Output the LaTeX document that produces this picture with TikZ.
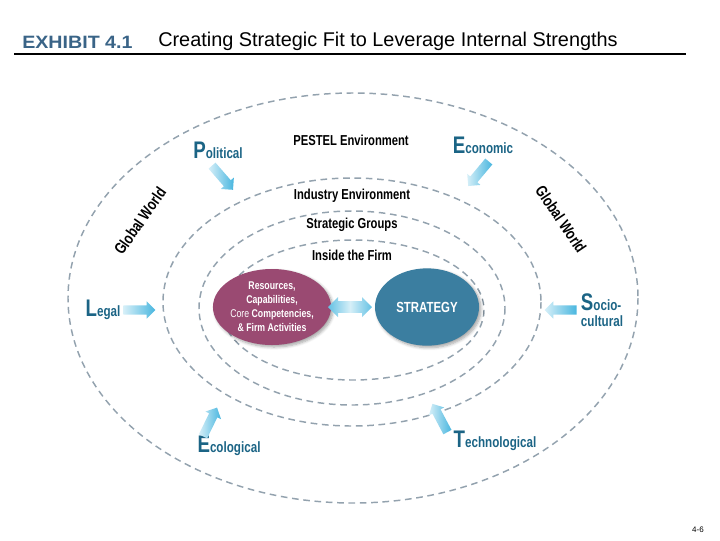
\documentclass[tikz,border=0pt]{standalone}
\usepackage{fontspec}
\setmainfont{Liberation Sans}
\newfontfamily\cond[FakeStretch=0.78]{Liberation Sans}
\newfontfamily\widefont[FakeStretch=1.1]{Liberation Sans}
\usetikzlibrary{shapes.arrows,shapes.geometric,shadows.blur}
\definecolor{ringgray}{HTML}{93A2AE}
\definecolor{plum}{HTML}{9A4A72}
\definecolor{stratblue}{HTML}{3B7EA0}
\definecolor{pestblue}{HTML}{1B6485}
\definecolor{exhblue}{HTML}{3A6487}
\definecolor{arrowdark}{HTML}{48B6DF}
\definecolor{arrowlight}{HTML}{D6EFF8}
\tikzset{
  ring/.style={draw=ringgray, line width=1.1pt, dash pattern=on 5pt off 3.5pt},
  ringlabel/.style={font=\cond\bfseries\fontsize{10.8}{12}\selectfont, text=black},
  gw/.style={font=\cond\bfseries\fontsize{12}{14}\selectfont, text=black},
  pest/.style={font=\cond\bfseries\fontsize{11.2}{13}\selectfont, text=pestblue, inner sep=0pt},
  fatarrow/.style={single arrow, minimum height=24pt, minimum width=13pt,
    single arrow head extend=3pt, single arrow tip angle=90, inner xsep=0pt, inner ysep=3.2pt,
    left color=arrowlight, right color=arrowdark, draw=none},
  core/.style={ellipse, text=white, align=center, inner sep=0pt,
    blur shadow={shadow xshift=1.5pt, shadow yshift=-1.5pt, shadow blur steps=6, shadow opacity=35}},
}
\newcommand{\BigLetter}[1]{{\fontsize{18}{18}\selectfont #1}}
\begin{document}
\begin{tikzpicture}[x=0.75pt,y=-0.75pt]
\useasboundingbox (0,0) rectangle (720,540);
% header
\node[anchor=west, inner sep=0pt, text=exhblue, font=\widefont\bfseries\fontsize{13.4}{15}\selectfont] (exh) at (22,42) {EXHIBIT 4.1};
\node[anchor=west, inner sep=0pt, font=\fontsize{14.9}{16}\selectfont] (title) at (158,41) {Creating Strategic Fit to Leverage Internal Strengths};
\coordinate (hl) at (14,54);
\coordinate (hr) at (686,54);
\draw[line width=0.8pt] (hl) -- (hr);
% rings
\draw[ring] (353,298) ellipse [x radius=285, y radius=205];
\draw[ring] (352,302) ellipse [x radius=189, y radius=124];
\draw[ring] (352,308) ellipse [x radius=153, y radius=97];
\draw[ring] (353,310) ellipse [x radius=131, y radius=70];
% ring labels
\node[ringlabel] (pestel) at (351,140) {PESTEL Environment};
\node[ringlabel] (ind) at (352,196) {Industry Environment};
\node[ringlabel] (sg) at (352,225) {Strategic Groups};
\node[ringlabel] (itf) at (352,255) {Inside the Firm};
% global world
\node[gw, rotate=55] (gwl) at (140,221) {Global World};
\node[gw, rotate=-56] (gwr) at (561,219) {Global World};
% core ellipses
\node[core, fill=plum, minimum width=73pt, minimum height=57pt,
  font=\cond\bfseries\fontsize{8.4}{10.5}\selectfont] (res) at (272,307)
  {Resources,\\Capabilities,\\{\mdseries Core} Competencies,\\\& Firm Activities};
\node[core, fill=stratblue, minimum width=78pt, minimum height=58pt,
  font=\cond\bfseries\fontsize{11}{13}\selectfont] (strat) at (427,307) {STRATEGY};
\node[double arrow, draw=none, minimum height=33pt, minimum width=15pt,
  double arrow head extend=3pt, inner xsep=0pt, inner ysep=4.2pt, double arrow tip angle=90,
  left color=arrowdark!85, right color=arrowdark!85, middle color=arrowlight] (dbl) at (350,307) {};
% PESTEL labels
\node[pest] (pol) at (218,150) {\BigLetter{P}olitical};
\node[pest] (eco) at (483,145) {\BigLetter{E}conomic};
\node[pest] (leg) at (103,310) {\BigLetter{L}egal};
\node[pest, align=left, font=\cond\bfseries\fontsize{11.2}{12}\selectfont] (soc) at (602,310) {\BigLetter{S}ocio-\\cultural};
\node[pest] (ecol) at (229,446) {\BigLetter{E}cological};
\node[pest] (tech) at (495,441) {\BigLetter{T}echnological};
% arrows
\node[fatarrow, rotate=-49] (apol) at (221,176) {};
\node[fatarrow, rotate=-130] (aeco) at (480,172) {};
\node[fatarrow, rotate=0] (aleg) at (137,310) {};
\node[fatarrow, rotate=180] (asoc) at (563,310) {};
\node[fatarrow, rotate=64] (aecol) at (209,424) {};
\node[fatarrow, rotate=118] (atech) at (441,420) {};
% page number
\node[font=\fontsize{6}{7}\selectfont] (pg) at (698,530) {4-6};
\end{tikzpicture}
\end{document}
